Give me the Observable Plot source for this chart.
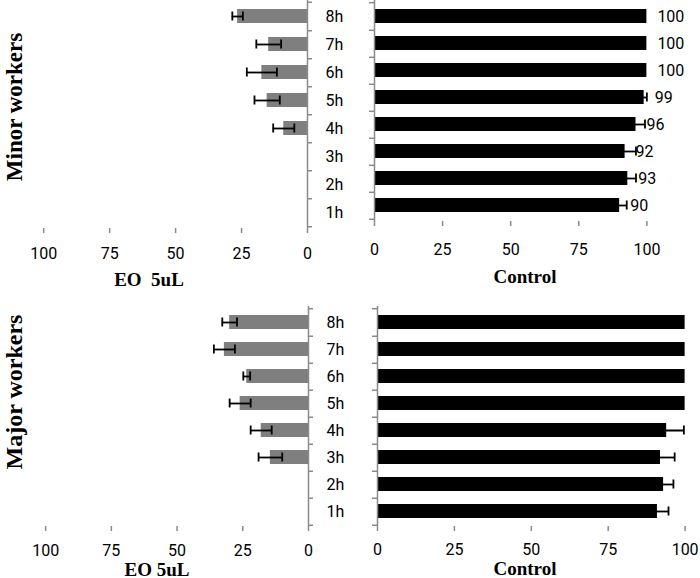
<!DOCTYPE html>
<html>
<head>
<meta charset="utf-8">
<script src="https://cdn.jsdelivr.net/npm/d3@7"></script>
<script src="https://cdn.jsdelivr.net/npm/@observablehq/plot@0.6"></script>
<style>
  html, body { margin: 0; padding: 0; background: white; }
  #wrap { position: relative; width: 700px; height: 578px; overflow: hidden; background: white; }
  .ttl { position: absolute; font-family: "Liberation Serif", "Times New Roman", serif; font-weight: bold; color: black; white-space: pre; line-height: 1; transform: translate(-50%, -50%); }
  .rot { transform: translate(-50%, -50%) rotate(-90deg); }
</style>
</head>
<body>
<div id="wrap"></div>
<script>
// ---- data ----
const categories = ["1h", "2h", "3h", "4h", "5h", "6h", "7h", "8h"];
const xTicks = [0, 25, 50, 75, 100];

const minorEO      = [null, null, null, 9, 15.3, 17.3, 14.7, 26.5];
const minorEOErr   = [null, null, null, 4, 4.8, 5.7, 4.7, 2];
const minorCtrl    = [90, 93, 92, 96, 99, 100, 100, 100];
const minorCtrlErr = [2.6, 3, 4, 3.3, 1, 0, 0, 0];

const majorEO      = [null, null, 14.5, 18, 26, 23.5, 32, 30];
const majorEOErr   = [null, null, 4.5, 4, 4, 1.3, 4, 2.8];
const majorCtrl    = [91, 93, 92, 94, 100, 100, 100, 100];
const majorCtrlErr = [3.6, 3.2, 4.6, 5.6, 0, 0, 0, 0];

// ---- helpers ----
function rowsOf(vals, errs) {
  return categories.map((c, i) => ({cat: c, v: vals[i], e: errs[i]})).filter(d => d.v != null);
}

const AXIS_GRAY = "#8a8a8a";
const W = 700, H = 578;

function panel({vals, errs, side, mL, mR, mT, mB, fill, tickPad, valueLabels}) {
  const rows = rowsOf(vals, errs);
  const errRows = rows.filter(d => d.e > 0);
  const frameH = H - mT - mB;
  const step = frameH / categories.length;
  const left = side === "left";
  const marks = [
    Plot.barX(rows, {x: "v", y: "cat", fill}),
    Plot.ruleY(errRows, {y: "cat", x1: d => d.v - d.e, x2: d => d.v + d.e, stroke: "black", strokeWidth: 1.8}),
    Plot.tickX(errRows, {x: d => d.v - d.e, y: "cat", stroke: "black", strokeWidth: 1.8, insetTop: 2.5, insetBottom: 2.5}),
    Plot.tickX(errRows, {x: d => d.v + d.e, y: "cat", stroke: "black", strokeWidth: 1.8, insetTop: 2.5, insetBottom: 2.5}),
    // vertical axis line and category boundary ticks
    Plot.ruleX([0], {stroke: AXIS_GRAY, strokeWidth: 1.5}),
    Plot.ruleY(categories, {y: d => d, x1: 0, x2: 0, dy: step / 2, stroke: AXIS_GRAY, strokeWidth: 1.5,
      insetLeft: left ? 0 : -5, insetRight: left ? -5 : 0}),
    Plot.ruleY([categories[categories.length - 1]], {y: d => d, x1: 0, x2: 0, dy: -step / 2, stroke: AXIS_GRAY, strokeWidth: 1.5,
      insetLeft: left ? 0 : -5, insetRight: left ? -5 : 0}),
    Plot.axisX({ticks: xTicks, tickSize: 5, tickPadding: tickPad, line: true, stroke: AXIS_GRAY, strokeWidth: 1.5, fill: "black", label: null})
  ];
  if (left) {
    marks.push(Plot.axisY({anchor: "right", tickSize: 0, tickPadding: 18, fill: "black", label: null, textAnchor: "start"}));
  }
  if (valueLabels) {
    marks.push(Plot.text(rows, {x: "v", y: "cat", text: d => String(d.v), dx: 10.5, textAnchor: "start", fill: "black"}));
  }
  const svg = Plot.plot({
    width: W, height: H,
    marginLeft: mL, marginRight: mR, marginTop: mT, marginBottom: mB,
    x: {domain: [0, 105], reverse: left, label: null},
    y: {type: "band", domain: [...categories].reverse(), paddingInner: 0.5, paddingOuter: 0.25, label: null, axis: left ? undefined : null},
    style: {position: "absolute", left: "0px", top: "0px", background: "transparent", overflow: "visible",
            fontFamily: "Roboto, 'Liberation Sans', sans-serif", fontSize: "16px", color: "black"},
    marks
  });
  return svg;
}

const wrap = document.getElementById("wrap");
wrap.appendChild(panel({vals: minorEO, errs: minorEOErr, side: "left", mL: 30, mR: 393, mT: 0, mB: 350, fill: "#7f7f7f", tickPad: 14}));
wrap.appendChild(panel({vals: minorCtrl, errs: minorCtrlErr, side: "right", mL: 374, mR: 40, mT: 0, mB: 357, fill: "black", tickPad: 17, valueLabels: true}));
wrap.appendChild(panel({vals: majorEO, errs: majorEOErr, side: "left", mL: 32, mR: 392, mT: 306, mB: 52, fill: "#7f7f7f", tickPad: 13}));
wrap.appendChild(panel({vals: majorCtrl, errs: majorCtrlErr, side: "right", mL: 377, mR: 0, mT: 306, mB: 52, fill: "black", tickPad: 12}));

function addTitle(text, x, y, size, rotate) {
  const d = document.createElement("div");
  d.className = "ttl" + (rotate ? " rot" : "");
  d.textContent = text;
  d.style.left = x + "px";
  d.style.top = y + "px";
  d.style.fontSize = size + "px";
  wrap.appendChild(d);
}
addTitle("EO  5uL", 149, 279, 19);
addTitle("Control", 525, 276, 19);
addTitle("EO 5uL", 157, 569, 19);
addTitle("Control", 525, 568, 19);
addTitle("Minor workers", 14, 107, 23, true);
addTitle("Major workers", 14, 392, 24, true);
</script>
</body>
</html>
